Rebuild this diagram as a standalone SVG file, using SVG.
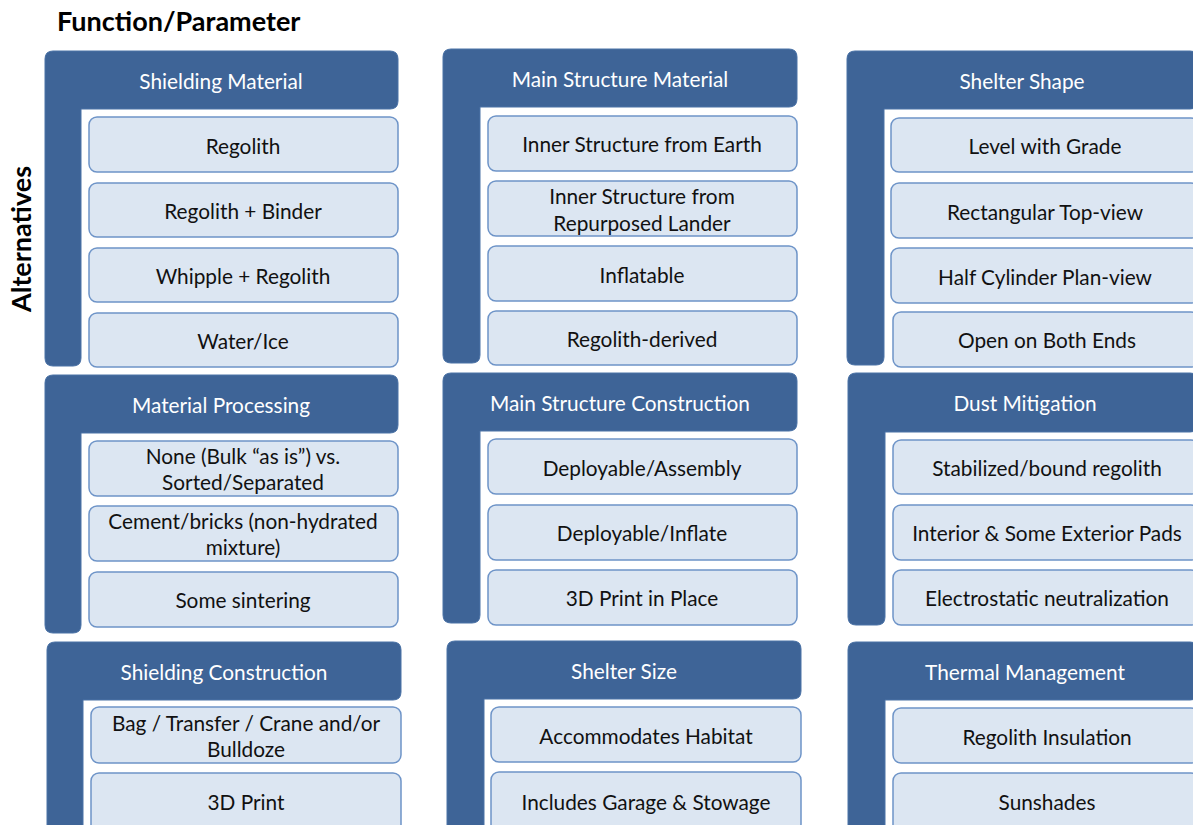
<svg xmlns="http://www.w3.org/2000/svg" width="1193" height="825" viewBox="0 0 1193 825">
<style>
  .frame { fill: #3E6497; stroke: #4A72A6; stroke-width: 1; }
  .item { fill: #DCE6F2; stroke: #6E94C8; stroke-width: 1.5; }
  .head { font-family: Lato, "Liberation Sans", sans-serif; font-size: 20.8px; fill: #FFFFFF; text-anchor: middle; dominant-baseline: central; }
  .txt { font-family: Lato, "Liberation Sans", sans-serif; font-size: 20.8px; fill: #111111; text-anchor: middle; dominant-baseline: central; }
  .title { font-family: Lato, "Liberation Sans", sans-serif; font-size: 27px; font-weight: bold; fill: #000000; }
</style>
<rect width="1193" height="825" fill="#FFFFFF"/>
<text class="title" x="57" y="31">Function/Parameter</text>
<text class="title" transform="translate(31,239) rotate(-90)" text-anchor="middle">Alternatives</text>

<!-- Column 1 -->
<g id="shielding-material">
  <path class="frame" d="M53,51 H390 Q398,51 398,59 V101 Q398,109 390,109 H81 V358 Q81,366 73,366 H53 Q45,366 45,358 V59 Q45,51 53,51 Z"/>
  <text class="head" x="221" y="80">Shielding Material</text>
  <rect class="item" x="89" y="117" width="309" height="55" rx="8"/>
  <text class="txt" x="243" y="145">Regolith</text>
  <rect class="item" x="89" y="183" width="309" height="54" rx="8"/>
  <text class="txt" x="243" y="210">Regolith + Binder</text>
  <rect class="item" x="89" y="248" width="309" height="54" rx="8"/>
  <text class="txt" x="243" y="275">Whipple + Regolith</text>
  <rect class="item" x="89" y="313" width="309" height="54" rx="8"/>
  <text class="txt" x="243" y="340">Water/Ice</text>
</g>
<g id="material-processing">
  <path class="frame" d="M53,375 H390 Q398,375 398,383 V425 Q398,433 390,433 H81 V625 Q81,633 73,633 H53 Q45,633 45,625 V383 Q45,375 53,375 Z"/>
  <text class="head" x="221" y="404">Material Processing</text>
  <rect class="item" x="89" y="441" width="309" height="55" rx="8"/>
  <text class="txt" x="243" y="455">None (Bulk “as is”) vs.</text>
  <text class="txt" x="243" y="481">Sorted/Separated</text>
  <rect class="item" x="89" y="506" width="309" height="55" rx="8"/>
  <text class="txt" x="243" y="520">Cement/bricks (non-hydrated</text>
  <text class="txt" x="243" y="546">mixture)</text>
  <rect class="item" x="89" y="572" width="309" height="55" rx="8"/>
  <text class="txt" x="243" y="599">Some sintering</text>
</g>
<g id="shielding-construction">
  <path class="frame" d="M55,642 H393 Q401,642 401,650 V692 Q401,700 393,700 H83 V833 H47 V650 Q47,642 55,642 Z"/>
  <text class="head" x="224" y="671">Shielding Construction</text>
  <rect class="item" x="91" y="707" width="310" height="56" rx="8"/>
  <text class="txt" x="246" y="722">Bag / Transfer / Crane and/or</text>
  <text class="txt" x="246" y="748">Bulldoze</text>
  <rect class="item" x="91" y="773" width="310" height="60" rx="8"/>
  <text class="txt" x="246" y="801">3D Print</text>
</g>

<!-- Column 2 -->
<g id="main-structure-material">
  <path class="frame" d="M451,49 H789 Q797,49 797,57 V99 Q797,107 789,107 H480 V355 Q480,363 472,363 H451 Q443,363 443,355 V57 Q443,49 451,49 Z"/>
  <text class="head" x="620" y="78">Main Structure Material</text>
  <rect class="item" x="488" y="116" width="309" height="55" rx="8"/>
  <text class="txt" x="642" y="143">Inner Structure from Earth</text>
  <rect class="item" x="488" y="181" width="309" height="55" rx="8"/>
  <text class="txt" x="642" y="195">Inner Structure from</text>
  <text class="txt" x="642" y="222">Repurposed Lander</text>
  <rect class="item" x="488" y="246" width="309" height="55" rx="8"/>
  <text class="txt" x="642" y="274">Inflatable</text>
  <rect class="item" x="488" y="311" width="309" height="54" rx="8"/>
  <text class="txt" x="642" y="338">Regolith-derived</text>
</g>
<g id="main-structure-construction">
  <path class="frame" d="M451,373 H789 Q797,373 797,381 V423 Q797,431 789,431 H480 V615 Q480,623 472,623 H451 Q443,623 443,615 V381 Q443,373 451,373 Z"/>
  <text class="head" x="620" y="402">Main Structure Construction</text>
  <rect class="item" x="488" y="439" width="309" height="55" rx="8"/>
  <text class="txt" x="642" y="467">Deployable/Assembly</text>
  <rect class="item" x="488" y="505" width="309" height="55" rx="8"/>
  <text class="txt" x="642" y="532">Deployable/Inflate</text>
  <rect class="item" x="488" y="570" width="309" height="55" rx="8"/>
  <text class="txt" x="642" y="597">3D Print in Place</text>
</g>
<g id="shelter-size">
  <path class="frame" d="M455,641 H793 Q801,641 801,649 V691 Q801,699 793,699 H484 V833 H447 V649 Q447,641 455,641 Z"/>
  <text class="head" x="624" y="670">Shelter Size</text>
  <rect class="item" x="491" y="707" width="310" height="55" rx="8"/>
  <text class="txt" x="646" y="735">Accommodates Habitat</text>
  <rect class="item" x="491" y="772" width="310" height="60" rx="8"/>
  <text class="txt" x="646" y="801">Includes Garage &amp; Stowage</text>
</g>

<!-- Column 3 -->
<g id="shelter-shape">
  <path class="frame" d="M855,51 H1190 Q1198,51 1198,59 V101 Q1198,109 1190,109 H884 V357 Q884,365 876,365 H855 Q847,365 847,357 V59 Q847,51 855,51 Z"/>
  <text class="head" x="1022" y="80">Shelter Shape</text>
  <rect class="item" x="891" y="118" width="308" height="54" rx="8"/>
  <text class="txt" x="1045" y="145">Level with Grade</text>
  <rect class="item" x="891" y="183" width="308" height="55" rx="8"/>
  <text class="txt" x="1045" y="211">Rectangular Top-view</text>
  <rect class="item" x="891" y="248" width="308" height="55" rx="8"/>
  <text class="txt" x="1045" y="276">Half Cylinder Plan-view</text>
  <rect class="item" x="893" y="312" width="306" height="55" rx="8"/>
  <text class="txt" x="1047" y="339">Open on Both Ends</text>
</g>
<g id="dust-mitigation">
  <path class="frame" d="M856,373 H1190 Q1198,373 1198,381 V424 Q1198,432 1190,432 H885 V617 Q885,625 877,625 H856 Q848,625 848,617 V381 Q848,373 856,373 Z"/>
  <text class="head" x="1025" y="402">Dust Mitigation</text>
  <rect class="item" x="893" y="440" width="306" height="54" rx="8"/>
  <text class="txt" x="1047" y="467">Stabilized/bound regolith</text>
  <rect class="item" x="893" y="505" width="306" height="55" rx="8"/>
  <text class="txt" x="1047" y="532">Interior &amp; Some Exterior Pads</text>
  <rect class="item" x="893" y="570" width="306" height="55" rx="8"/>
  <text class="txt" x="1047" y="597">Electrostatic neutralization</text>
</g>
<g id="thermal-management">
  <path class="frame" d="M856,642 H1190 Q1198,642 1198,650 V692 Q1198,700 1190,700 H885 V833 H848 V650 Q848,642 856,642 Z"/>
  <text class="head" x="1025" y="671">Thermal Management</text>
  <rect class="item" x="893" y="708" width="306" height="55" rx="8"/>
  <text class="txt" x="1047" y="736">Regolith Insulation</text>
  <rect class="item" x="893" y="773" width="306" height="60" rx="8"/>
  <text class="txt" x="1047" y="801">Sunshades</text>
</g>
</svg>
